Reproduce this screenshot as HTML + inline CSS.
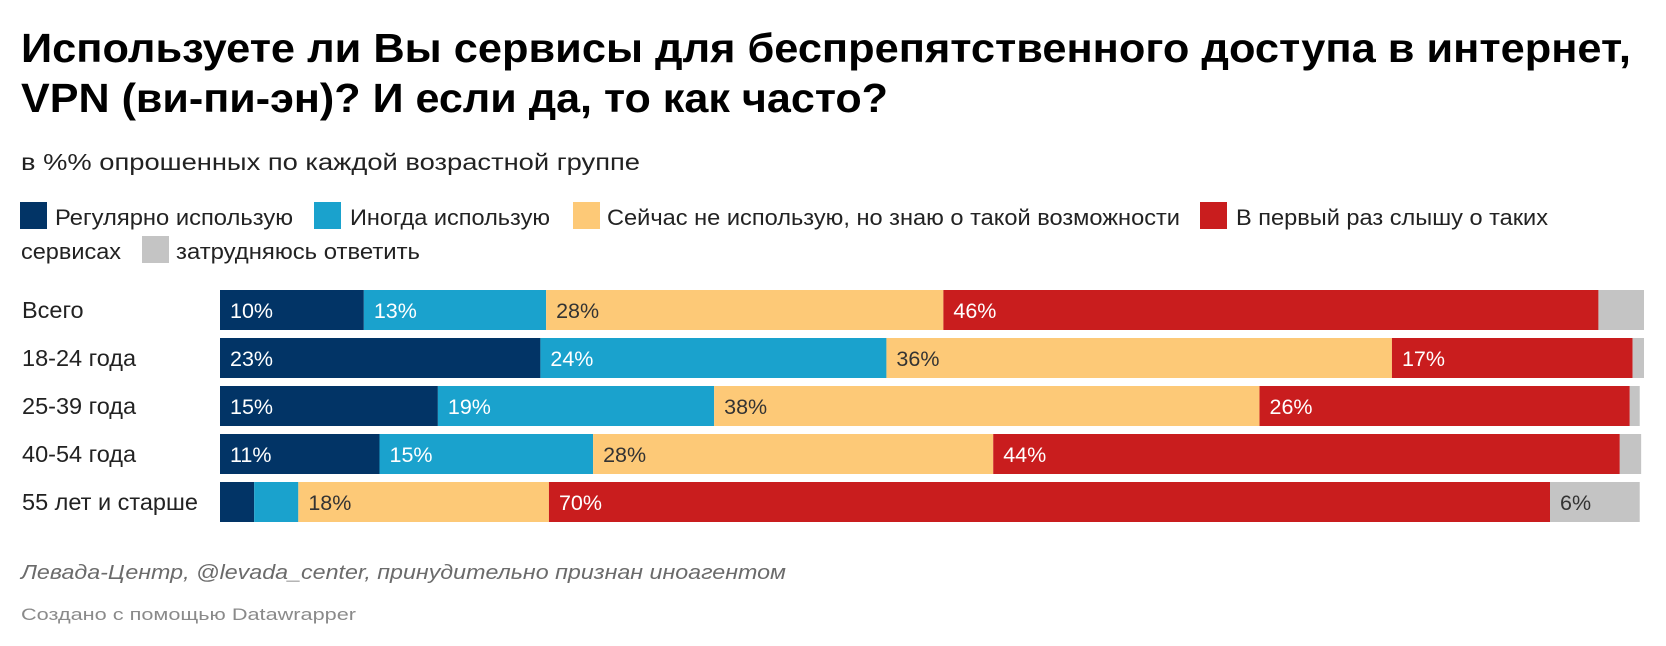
<!DOCTYPE html>
<html><head><meta charset="utf-8"><style>
html,body{margin:0;padding:0;background:#fff;}
svg{display:block;font-family:"Liberation Sans",sans-serif;}
</style></head><body>
<svg id="chart" width="1666" height="646" viewBox="0 0 1666 646" xmlns="http://www.w3.org/2000/svg">
<text x="21" y="62" font-size="41" font-weight="bold" fill="#000" textLength="1610" lengthAdjust="spacingAndGlyphs">Используете ли Вы сервисы для беспрепятственного доступа в интернет,</text>
<text x="21" y="112" font-size="41" font-weight="bold" fill="#000" textLength="867" lengthAdjust="spacingAndGlyphs">VPN (ви-пи-эн)? И если да, то как часто?</text>
<text x="21" y="170" font-size="23" fill="#222" textLength="619" lengthAdjust="spacingAndGlyphs">в %% опрошенных по каждой возрастной группе</text>
<g>
<rect x="20" y="202" width="27" height="27" fill="#023466"/>
<text x="55" y="225" font-size="22" fill="#222" textLength="238" lengthAdjust="spacingAndGlyphs">Регулярно использую</text>
<rect x="314" y="202" width="27" height="27" fill="#1aa2cd"/>
<text x="350" y="225" font-size="22" fill="#222" textLength="200" lengthAdjust="spacingAndGlyphs">Иногда использую</text>
<rect x="573" y="202" width="27" height="27" fill="#fdc977"/>
<text x="607" y="225" font-size="22" fill="#222" textLength="573" lengthAdjust="spacingAndGlyphs">Сейчас не использую, но знаю о такой возможности</text>
<rect x="1200" y="202" width="27" height="27" fill="#c91d1e"/>
<text x="1236" y="225" font-size="22" fill="#222" textLength="312" lengthAdjust="spacingAndGlyphs">В первый раз слышу о таких</text>
<text x="21" y="259" font-size="22" fill="#222" textLength="100" lengthAdjust="spacingAndGlyphs">сервисах</text>
<rect x="142" y="236" width="27" height="27" fill="#c4c4c4"/>
<text x="176" y="259" font-size="22" fill="#222" textLength="244" lengthAdjust="spacingAndGlyphs">затрудняюсь ответить</text>
</g>
<g id="bars"></g>
<text x="21" y="579" font-size="20" font-style="italic" fill="#6b6b6b" textLength="765" lengthAdjust="spacingAndGlyphs">Левада-Центр, @levada_center, принудительно признан иноагентом</text>
<text x="21" y="620" font-size="17" fill="#8a8a8a" textLength="335" lengthAdjust="spacingAndGlyphs">Создано с помощью Datawrapper</text>
</svg>
<script>
const categories = ["Всего", "18-24 года", "25-39 года", "40-54 года", "55 лет и старше"];
const regular   = [10.1, 22.5, 15.3, 11.2, 2.4];
const sometimes = [12.8, 24.3, 19.4, 15.0, 3.1];
const aware     = [27.9, 35.5, 38.3, 28.1, 17.6];
const firstTime = [46.0, 16.9, 26.0, 44.0, 70.3];
const dontKnow  = [3.2, 0.8, 0.7, 1.5, 6.3];

const seriesList = [regular, sometimes, aware, firstTime, dontKnow];
const colors = ["#023466", "#1aa2cd", "#fdc977", "#c91d1e", "#c4c4c4"];
const textColors = ["#fff", "#fff", "#333", "#fff", "#333"];
const x0 = 220, pxPerUnit = 14.24;
function xScale(v){ return x0 + v * pxPerUnit; }
function yScale(i){ return 290 + i * 48; }
const barH = 40;
const NS = "http://www.w3.org/2000/svg";
const g = document.getElementById("bars");
categories.forEach((cat, i) => {
  const y = yScale(i);
  const lab = document.createElementNS(NS, "text");
  
  
  lab.setAttribute("x", 22); lab.setAttribute("y", y + 28);
  lab.setAttribute("font-size", "23.5"); lab.setAttribute("fill", "#222");
  lab.textContent = cat;
  g.appendChild(lab);
  let acc = 0;
  seriesList.forEach((s, k) => {
    const v = s[i];
    const xs = xScale(acc), xe = xScale(acc + v);
    const r = document.createElementNS(NS, "rect");
    
    
    r.setAttribute("x", xs); r.setAttribute("y", y);
    r.setAttribute("width", Math.max(0, xe - xs)); r.setAttribute("height", barH);
    r.setAttribute("fill", colors[k]);
    g.appendChild(r);
    if (v >= 4) {
      const t = document.createElementNS(NS, "text");
      
      
      t.setAttribute("x", xs + 10); t.setAttribute("y", y + 28);
      t.setAttribute("font-size", "21.5"); t.setAttribute("fill", textColors[k]);
      t.textContent = Math.round(v) + "%";
      g.appendChild(t);
    }
    acc += v;
  });
});
</script>
</body></html>
